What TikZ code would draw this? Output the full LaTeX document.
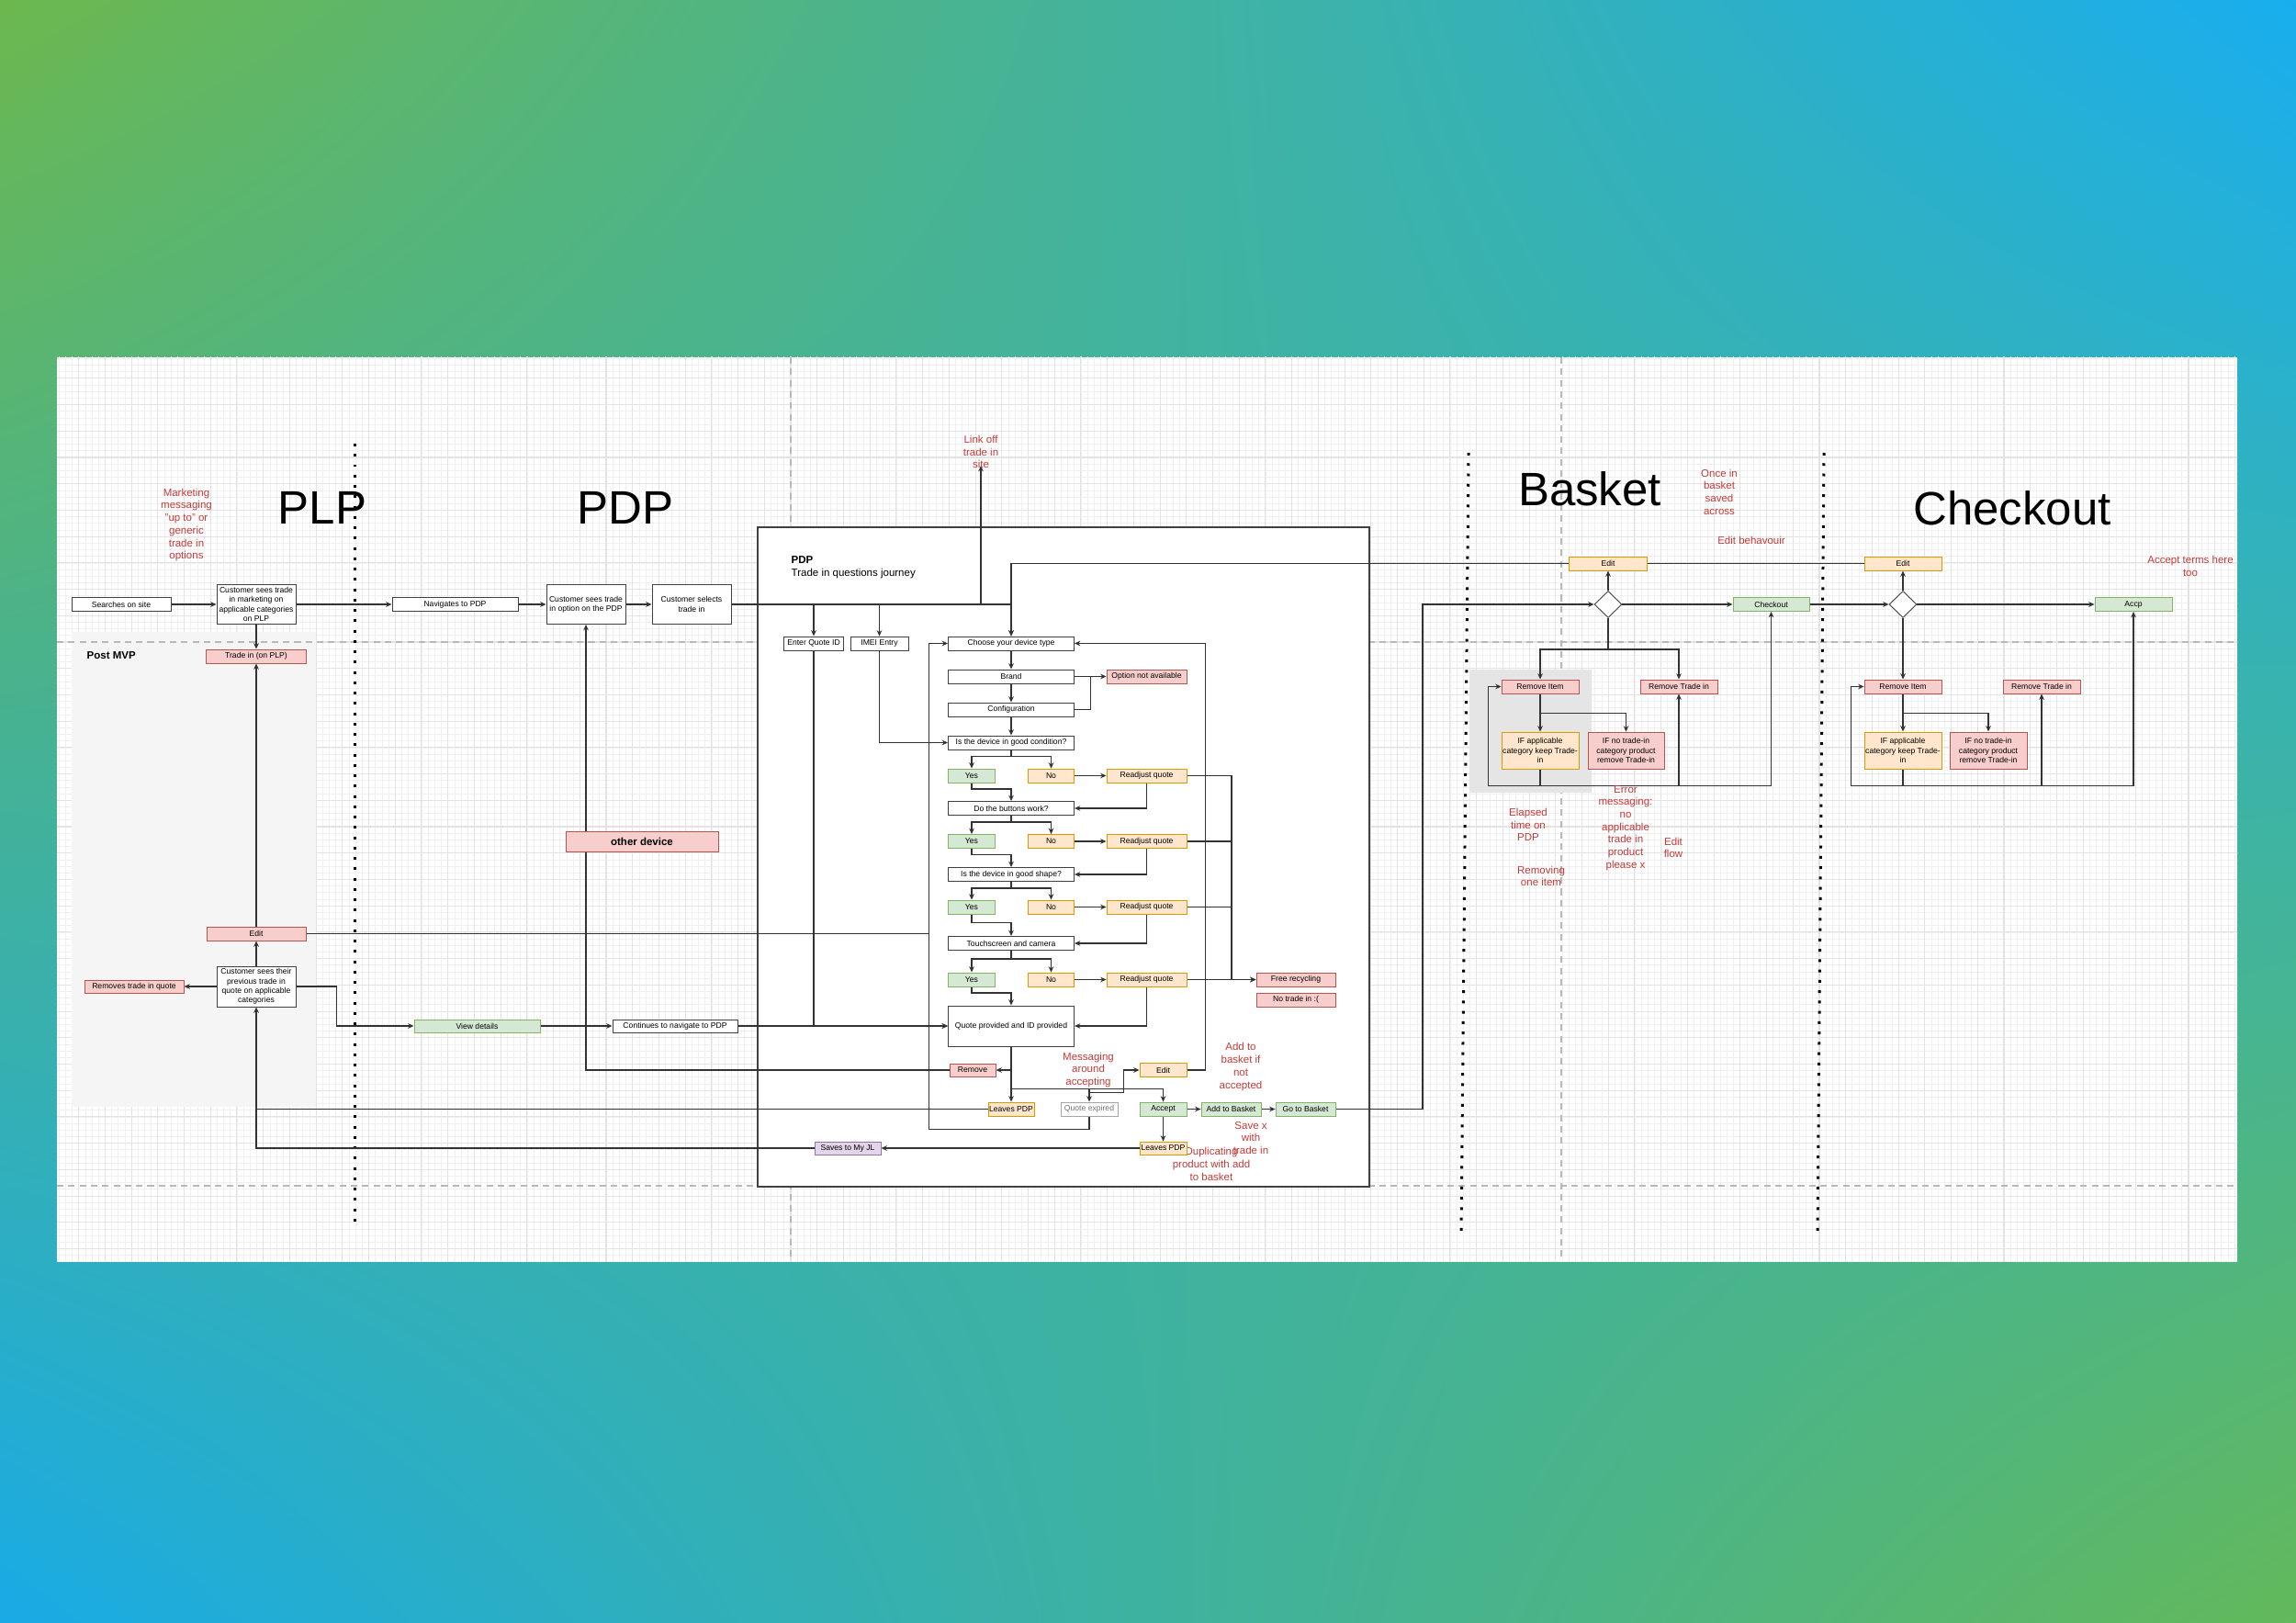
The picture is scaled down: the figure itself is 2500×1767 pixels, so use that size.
\documentclass[tikz,border=0pt]{standalone}
\usepackage{fontspec}
\setmainfont{Liberation Sans}
\usetikzlibrary{arrows.meta,shapes.geometric,calc,shadings}

\definecolor{pinkfill}{HTML}{F8CECC}
\definecolor{pinkline}{HTML}{B85450}
\definecolor{greenfill}{HTML}{D5E8D4}
\definecolor{greenline}{HTML}{82B366}
\definecolor{orangefill}{HTML}{FFE6CC}
\definecolor{orangeline}{HTML}{D79B00}
\definecolor{purplefill}{HTML}{E1D5E7}
\definecolor{purpleline}{HTML}{9673A6}
\definecolor{notered}{HTML}{C43A3A}
\definecolor{mvpgray}{HTML}{F5F5F5}
\definecolor{bgtl}{HTML}{6CB84E}
\definecolor{bgtr}{HTML}{18AEEF}
\definecolor{bgbl}{HTML}{19ABE6}
\definecolor{bgbr}{HTML}{63B95A}

\newcommand{\boxfont}{\fontsize{2.45pt}{2.9pt}\selectfont}
\newcommand{\notefont}{\fontsize{3.27pt}{3.9pt}\selectfont}
\newcommand{\titlefont}{\fontsize{14.5pt}{17pt}\selectfont}

\pgfdeclarelayer{bg}
\pgfdeclarelayer{edges}
\pgfsetlayers{bg,edges,main}

\tikzset{
  wh/.style 2 args={minimum width=#1*0.28453pt, minimum height=#2*0.28453pt},
  box/.style={draw=black!75, fill=white, line width=0.25pt, inner sep=0pt, align=center, font=\boxfont},
  pinkbox/.style={box, draw=pinkline, fill=pinkfill},
  greenbox/.style={box, draw=greenline, fill=greenfill},
  orangebox/.style={box, draw=orangeline, fill=orangefill},
  purplebox/.style={box, draw=purpleline, fill=purplefill},
  decision/.style={diamond, draw=black!75, fill=white, line width=0.25pt, inner sep=0pt, wh={30}{29}},
  redtext/.style={text=notered, align=center, font=\notefont, inner sep=0pt},
  bigtitle/.style={font=\titlefont, inner sep=0pt},
  arr/.style={draw=black!80, line width=0.33pt, -{Stealth[length=1.8pt,width=1.6pt]}},
  ln/.style={draw=black!80, line width=0.33pt},
  sepline/.style={line width=0.85pt, dash pattern=on 0.85pt off 2.35pt},
  pageline/.style={black!28, line width=0.35pt, dash pattern=on 2pt off 1.5pt},
  gridfine/.style={black!6, line width=0.2pt},
  gridbold/.style={black!11, line width=0.3pt},
}

\begin{document}
\begin{tikzpicture}[x=0.01cm, y=-0.01cm]
\useasboundingbox (0,0) rectangle (2500,1767);

\begin{pgfonlayer}{bg}
  % Draw the backdrop and the canvas
  \shade[upper left=bgtl, upper right=bgtr, lower left=bgbl, lower right=bgbr] (0,0) rectangle (2500,1767);
  \fill[white] (62,389) rectangle (2436,1373);
  \begin{scope}
    \clip (62,389) rectangle (2436,1373);
    \draw[gridfine, step=0.07175cm, shift={(861,699)}] (-810,690) grid (1590,-320);
    \draw[gridbold, step=0.287cm, shift={(861,699)}] (-810,690) grid (1590,-320);
  \end{scope}

  % Post MVP area
  \fill[mvpgray] (78,688) rectangle (344,1205);

  % Page breaks
  \draw[pageline] (861,389) -- (861,1373);
  \draw[pageline] (1700,389) -- (1700,1373);
  \draw[pageline] (62,699) -- (2436,699);
  \draw[pageline] (62,1291) -- (2436,1291);

  % PDP container and basket highlight
  \draw[black!75, line width=0.33pt, fill=white] (825,574) rectangle (1491,1292);
  \fill[black!10] (1600,729) rectangle (1733,863);

  % Stage separators
  \draw[sepline] (386,483) -- (386,1333);
  \draw[sepline] (1599,493) -- (1591,1346);
  \draw[sepline] (1986,493) -- (1979,1346);
\end{pgfonlayer}

% Titles and notes
\node[bigtitle] (tplp) at (351,553) {PLP};
\node[bigtitle] (tpdp) at (681,553) {PDP};
\node[bigtitle] (tbasket) at (1731,532) {Basket};
\node[bigtitle] (tcheckout) at (2191,553) {Checkout};
\node[anchor=west, font=\notefont\bfseries, inner sep=0pt] (postmvp) at (94,714) {Post MVP};
\node[anchor=north west, align=left, font=\notefont, inner sep=0pt] (pdplabel) at (861,605) {\textbf{PDP}\\Trade in questions journey};
\node[redtext] (marketing) at (203,571.5) {Marketing\\messaging\\"up to" or\\generic\\trade in\\options};
\node[redtext] (linktext) at (1068,492) {Link off\\trade in\\site};
\node[redtext] (msgaccept) at (1185,1165) {Messaging\\around\\accepting};
\node[redtext] (addnote) at (1351,1161.5) {Add to\\basket if\\not\\accepted};
\node[redtext] (savenote) at (1362,1239) {Save x\\with\\trade in};
\node[redtext] (dupnote) at (1319,1267.5) {Duplicating\\product with add\\to basket};
\node[redtext] (oncenote) at (1872,535.5) {Once in\\basket\\saved\\across};
\node[redtext] (editbeh) at (1907,588) {Edit behavouir};
\node[redtext] (elapsed) at (1664,898) {Elapsed\\time on\\PDP};
\node[redtext] (removing) at (1678,954) {Removing\\one item};
\node[redtext] (errnote) at (1770,901.5) {Error\\messaging:\\no\\applicable\\trade in\\product\\please x};
\node[redtext] (editflow) at (1822,923) {Edit\\flow};
\node[redtext] (termsnote) at (2385,616.5) {Accept terms here\\too};
\coordinate (linkoff) at (1068,507);

% PLP and PDP entry
\node[box, wh={108}{15}] (search) at (132,658) {Searches on site};
\node[box, wh={86}{43}] (plpsees) at (279,658) {Customer sees trade\\in marketing on\\applicable categories\\on PLP};
\node[box, wh={137}{15}] (navpdp) at (495.5,658) {Navigates to PDP};
\node[box, wh={86}{43}] (pdpsees) at (638,658) {Customer sees trade\\in option on the PDP};
\node[box, wh={86}{43}] (selects) at (753,658) {Customer selects\\trade in};
\node[pinkbox, wh={109}{15}] (tradeplp) at (279,714.5) {Trade in (on PLP)};
\node[pinkbox, wh={108}{15}] (editplp) at (279,1016.5) {Edit};
\node[box, wh={86}{44}] (prevquote) at (279,1074) {Customer sees their\\previous trade in\\quote on applicable\\categories};
\node[pinkbox, wh={108}{14}] (removesq) at (146,1074) {Removes trade in quote};
\node[greenbox, wh={137}{14}] (viewdet) at (519.5,1117) {View details};
\node[box, wh={136}{14}] (contnav) at (735,1117) {Continues to navigate to PDP};
\node[pinkbox, wh={166}{22}, font=\notefont\bfseries] (otherdev) at (699,916) {other device};

% Trade in questions
\node[box, wh={64.5}{15}] (quoteid) at (886,700.5) {Enter Quote ID};
\node[box, wh={63}{15}] (imei) at (957.5,700.5) {IMEI Entry};
\node[box, wh={137}{15}] (choose) at (1101,700.5) {Choose your device type};
\node[box, wh={137}{15}] (brand) at (1101,736.5) {Brand};
\node[pinkbox, wh={87}{15}] (optna) at (1248.5,736.5) {Option not available};
\node[box, wh={137}{15}] (config) at (1101,772.5) {Configuration};
\node[box, wh={137}{15}] (cond) at (1101,808.5) {Is the device in good condition?};
\node[greenbox, wh={51}{15}] (yes1) at (1058,844.5) {Yes};
\node[orangebox, wh={50}{15}] (no1) at (1144.5,844.5) {No};
\node[orangebox, wh={87}{15}] (readj1) at (1248.5,844.5) {Readjust quote};
\node[box, wh={137}{15}] (buttons) at (1101,880) {Do the buttons work?};
\node[greenbox, wh={51}{15}] (yes2) at (1058,916) {Yes};
\node[orangebox, wh={50}{15}] (no2) at (1144.5,916) {No};
\node[orangebox, wh={87}{15}] (readj2) at (1248.5,916) {Readjust quote};
\node[box, wh={137}{15}] (shape) at (1101,952) {Is the device in good shape?};
\node[greenbox, wh={51}{15}] (yes3) at (1058,987.5) {Yes};
\node[orangebox, wh={50}{15}] (no3) at (1144.5,987.5) {No};
\node[orangebox, wh={87}{15}] (readj3) at (1248.5,987.5) {Readjust quote};
\node[box, wh={137}{15}] (touch) at (1101,1027) {Touchscreen and camera};
\node[greenbox, wh={51}{15}] (yes4) at (1058,1066.5) {Yes};
\node[orangebox, wh={50}{15}] (no4) at (1144.5,1066.5) {No};
\node[orangebox, wh={87}{15}] (readj4) at (1248.5,1066.5) {Readjust quote};
\node[pinkbox, wh={86}{15}] (freerec) at (1411,1066.5) {Free recycling};
\node[pinkbox, wh={86}{15}] (notrade) at (1411,1088.5) {No trade in :(};
\node[box, wh={137}{44}] (quote) at (1101,1117) {Quote provided and ID provided};
\node[pinkbox, wh={50}{14}] (remove) at (1059,1165) {Remove};
\node[orangebox, wh={51}{15}] (edit) at (1266.5,1165) {Edit};
\node[orangebox, wh={50}{15}] (leaves1) at (1101,1207.5) {Leaves PDP};
\node[box, wh={62}{15}, draw=black!35, text=black!55] (expired) at (1186,1207.5) {Quote expired};
\node[greenbox, wh={51}{15}] (accept) at (1266.5,1207.5) {Accept};
\node[greenbox, wh={65}{15}] (addbasket) at (1340.5,1207.5) {Add to Basket};
\node[greenbox, wh={65}{15}] (gobasket) at (1421.5,1207.5) {Go to Basket};
\node[orangebox, wh={51}{14}] (leaves2) at (1266.5,1250) {Leaves PDP};
\node[purplebox, wh={72}{14}] (saves) at (923,1250) {Saves to My JL};
\coordinate (rloop) at ($(choose.east)+(142.5,0)$);
\coordinate (lloop) at ($(choose.west)+(-20.5,0)$);
\coordinate (recbus) at (1341,1066.5);
\coordinate (bin) at (1549,658);

% Basket
\node[orangebox, wh={85}{15}] (bedit) at (1751,613.5) {Edit};
\node[decision] (bdia) at (1751,658) {};
\node[greenbox, wh={83}{15}] (checkout) at (1928.5,658) {Checkout};
\node[pinkbox, wh={84}{15}] (bremitem) at (1677,747.5) {Remove Item};
\node[pinkbox, wh={84}{15}] (bremtrade) at (1828,747.5) {Remove Trade in};
\node[orangebox, wh={84}{40}] (bifapp) at (1677,817) {IF applicable\\category keep Trade-\\in};
\node[pinkbox, wh={83}{40}] (bifno) at (1770.5,817) {IF no trade-in\\category product\\remove Trade-in};

% Checkout
\node[orangebox, wh={84}{15}] (cedit) at (2072,613.5) {Edit};
\node[decision] (cdia) at (2072,658) {};
\node[greenbox, wh={84}{15}] (accp) at (2323,658) {Accp};
\node[pinkbox, wh={84}{15}] (cremitem) at (2072,747.5) {Remove Item};
\node[pinkbox, wh={84}{15}] (cremtrade) at (2223,747.5) {Remove Trade in};
\node[orangebox, wh={84}{40}] (cifapp) at (2072,817) {IF applicable\\category keep Trade-\\in};
\node[pinkbox, wh={84}{40}] (cifno) at (2165,817) {IF no trade-in\\category product\\remove Trade-in};

\begin{pgfonlayer}{edges}
  % PLP flow
  \draw[arr] (search) -- (plpsees);
  \draw[arr] (plpsees) -- (navpdp);
  \draw[arr] (navpdp) -- (pdpsees);
  \draw[arr] (pdpsees) -- (selects);
  \draw[arr] (plpsees) -- (tradeplp);
  \draw[arr] (editplp) -- (tradeplp);
  \draw[arr] (prevquote) -- (editplp);
  \draw[arr] (prevquote) -- (removesq);
  \draw[arr] (prevquote.east) -- ++(44,0) |- (viewdet.west);
  \draw[arr] (viewdet) -- (contnav);
  \draw[arr] (contnav) -- (quote);
  \draw[ln] (editplp.east) -- (editplp.east -| lloop);

  % Into the questions journey
  \draw[arr] (selects.east) -| (choose.north);
  \draw[arr] (selects.east) -| (quoteid.north);
  \draw[arr] (selects.east) -| (imei.north);
  \draw[arr] (selects.east) -| (linkoff);
  \draw[arr] (bedit.west) -| (choose.north);
  \draw[ln] (cedit.west) -- (bedit.east);
  \draw[arr] (quoteid.south) |- (quote.west);
  \draw[arr] (imei.south) |- (cond.west);

  % Questions
  \draw[arr] (choose) -- (brand);
  \draw[arr] (brand) -- (config);
  \draw[arr] (config) -- (cond);
  \draw[arr] (brand) -- (optna);
  \draw[ln] (config.east) -| ($(brand.east)!0.5!(optna.west)$);
  \draw[arr] (cond.south) -- ++(0,7) -| (yes1.north);
  \draw[arr] (cond.south) -- ++(0,7) -| (no1.north);
  \draw[arr] (no1) -- (readj1);
  \draw[arr] (yes1.south) -- ++(0,6.5) -| (buttons.north);
  \draw[arr] (readj1.south) |- (buttons.east);
  \draw[arr] (buttons.south) -- ++(0,7) -| (yes2.north);
  \draw[arr] (buttons.south) -- ++(0,7) -| (no2.north);
  \draw[arr] (no2) -- (readj2);
  \draw[arr] (yes2.south) -- ++(0,6.5) -| (shape.north);
  \draw[arr] (readj2.south) |- (shape.east);
  \draw[arr] (shape.south) -- ++(0,7) -| (yes3.north);
  \draw[arr] (shape.south) -- ++(0,7) -| (no3.north);
  \draw[arr] (no3) -- (readj3);
  \draw[arr] (yes3.south) -- ++(0,9) -| (touch.north);
  \draw[arr] (readj3.south) |- (touch.east);
  \draw[arr] (touch.south) -- ++(0,9) -| (yes4.north);
  \draw[arr] (touch.south) -- ++(0,9) -| (no4.north);
  \draw[arr] (no4) -- (readj4);
  \draw[arr] (yes4.south) -- ++(0,6.5) -| (quote.north);
  \draw[arr] (readj4.south) |- (quote.east);
  \draw[arr] (readj1.east) -| (recbus) -- (freerec.west);
  \draw[ln] (readj2.east) -| (recbus);
  \draw[ln] (readj3.east) -| (recbus);
  \draw[arr] (readj4) -- (freerec);

  % Quote outcomes
  \draw[arr] (quote) -- (leaves1);
  \draw[arr] (quote.south) |- (remove.east);
  \draw[arr] (quote.south) -- ++(0,46) -| (accept.north);
  \draw[arr] (quote.south) -- ++(0,46) -| (expired.north);
  \draw[arr] ($(expired.north)+(0,-10)$) -| ($(edit.west)+(-17,0)$) -- (edit.west);
  \draw[arr] (edit.east) -| (rloop) -- (choose.east);
  \draw[arr] (expired.south) -- ++(0,14) -| (lloop) -- (choose.west);
  \draw[arr] (remove.west) -| (pdpsees.south);
  \draw[ln] (leaves1.west) -- (leaves1.west -| prevquote);
  \draw[arr] (accept) -- (addbasket);
  \draw[arr] (addbasket) -- (gobasket);
  \draw[arr] (accept) -- (leaves2);
  \draw[arr] (leaves2) -- (saves);
  \draw[arr] (saves.west) -| (prevquote.south);
  \draw[arr] (gobasket.east) -| (bin) -- (bdia.west);

  % Basket flow
  \draw[arr] (bdia) -- (bedit);
  \draw[arr] (bdia) -- (checkout);
  \draw[arr] (bdia.south) -- ++(0,34) -| (bremitem.north);
  \draw[arr] (bdia.south) -- ++(0,34) -| (bremtrade.north);
  \draw[arr] (bremitem) -- (bifapp);
  \draw[arr] (bremitem.south) -- ++(0,21) -| (bifno.north);
  \draw[arr] (bifapp.south) -- ++(0,18) -| ($(bremitem.west)+(-14,0)$) -- (bremitem.west);
  \draw[arr] (bifapp.south) -- ++(0,18) -| (bremtrade.south);
  \draw[arr] (bifapp.south) -- ++(0,18) -| (checkout.south);
  \draw[arr] (checkout) -- (cdia);

  % Checkout flow
  \draw[arr] (cdia) -- (cedit);
  \draw[arr] (cdia) -- (accp);
  \draw[arr] (cdia) -- (cremitem);
  \draw[arr] (cremitem) -- (cifapp);
  \draw[arr] (cremitem.south) -- ++(0,21) -| (cifno.north);
  \draw[arr] (cifapp.south) -- ++(0,18) -| ($(cremitem.west)+(-14,0)$) -- (cremitem.west);
  \draw[arr] (cifapp.south) -- ++(0,18) -| (cremtrade.south);
  \draw[arr] (cifapp.south) -- ++(0,18) -| (accp.south);
\end{pgfonlayer}
\end{tikzpicture}
\end{document}
